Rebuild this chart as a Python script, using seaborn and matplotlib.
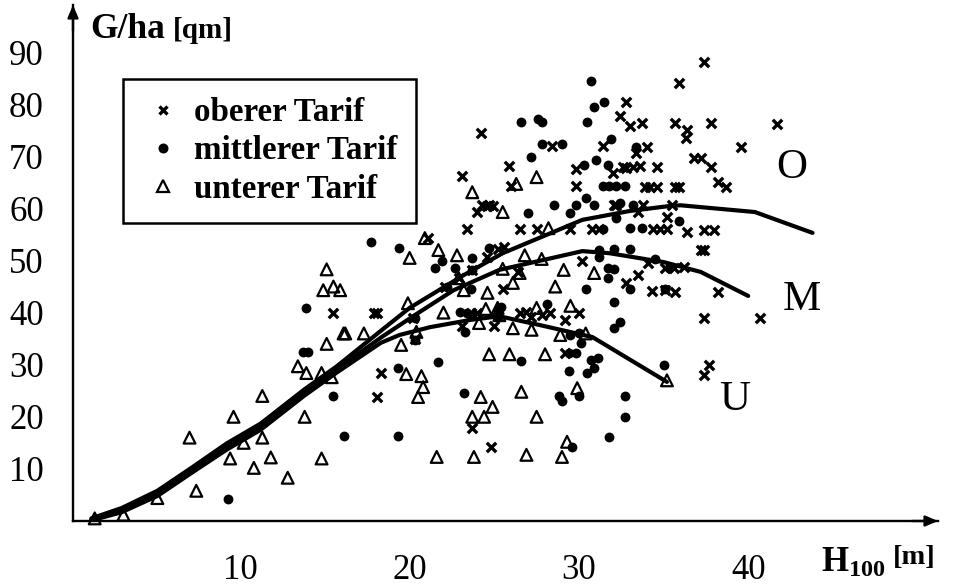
import matplotlib
matplotlib.use("Agg")
import matplotlib.pyplot as plt
import seaborn as sns
from matplotlib.lines import Line2D

sns.set_style("white")
plt.rcParams['font.family'] = ['Liberation Serif', 'DejaVu Serif']
plt.rcParams['text.color'] = 'black'
plt.rcParams['mathtext.fontset'] = 'custom'
plt.rcParams['mathtext.bf'] = 'Liberation Serif:bold'
plt.rcParams['mathtext.rm'] = 'Liberation Serif'

x_ticks = [10, 20, 30, 40]
y_ticks = [10, 20, 30, 40, 50, 60, 70, 80, 90]
legend_labels = ["oberer Tarif", "mittlerer Tarif", "unterer Tarif"]

cross_x = [15.5, 17.9, 18.1, 18.3, 18.1, 20.3, 20.2, 23.4, 24.0, 24.6, 24.9, 26.5, 27.5, 29.5, 30.8, 31.2,
           34.8, 35.2, 35.2, 32.2, 33.8, 33.5, 30.2, 34.1, 33.5, 32.8, 34.3, 25.5, 22.1, 23.7, 24.6, 25.2,
           25.6, 30.0, 29.2, 26.5, 26.9, 28.3, 27.8, 27.2, 23.6, 24.0, 25.0, 23.1, 29.2, 23.7, 24.8, 21.1,
           22.9, 26.4, 37.4, 35.9, 41.7, 37.8, 35.7, 36.4, 36.3, 39.6, 36.8, 37.2, 37.8, 38.2, 38.7, 35.7,
           35.9, 34.6, 33.9, 34.2, 34.6, 33.6, 32.8, 34.0, 33.4, 33.0, 33.7, 32.4, 32.8, 31.4, 29.8, 29.8,
           32.0, 24.2, 23.1, 25.9, 28.4, 26.0, 24.3, 24.7, 32.1, 35.5, 36.4, 37.4, 38.0, 37.2, 37.4, 35.1,
           35.6, 36.2, 38.2, 37.4, 40.7, 37.7, 37.4, 35.7, 35.1, 32.6, 33.2, 34.4]
cross_y = [40.0, 40.0, 40.0, 28.4, 23.8, 35.0, 39.0, 56.0, 59.3, 60.5, 60.5, 56.0, 56.0, 56.0, 56.0, 56.0,
           56.0, 56.0, 58.4, 60.7, 60.7, 59.3, 50.0, 49.5, 47.2, 45.7, 44.1, 44.5, 44.9, 48.2, 50.7, 52.2,
           52.6, 40.0, 38.6, 40.0, 40.1, 40.0, 39.5, 39.2, 40.0, 40.0, 37.4, 37.4, 32.2, 17.8, 14.2, 54.3,
           46.6, 47.8, 88.1, 84.0, 76.2, 76.4, 76.4, 75.0, 73.5, 71.8, 69.7, 69.7, 67.9, 65.0, 64.1, 64.1,
           64.1, 64.1, 64.1, 64.1, 67.9, 68.1, 67.8, 71.8, 70.6, 75.8, 76.4, 77.7, 80.4, 72.0, 67.6, 64.3,
           66.8, 74.5, 66.2, 68.1, 72.0, 64.3, 60.6, 60.6, 60.7, 60.7, 55.5, 55.9, 55.9, 52.0, 52.0, 48.6,
           48.6, 48.7, 44.0, 39.0, 39.0, 30.0, 28.0, 44.0, 44.3, 68.0, 68.0, 56.0]

circle_x = [17.7, 13.9, 13.7, 14.0, 15.5, 16.1, 9.3, 19.4, 21.9, 21.5, 22.7, 23.7, 24.7, 23.7, 23.6, 22.2,
            20.3, 20.3, 23.0, 23.4, 23.7, 23.3, 25.2, 28.1, 29.5, 30.0, 30.1, 29.4, 29.8, 30.7, 31.1, 30.9,
            30.5, 29.4, 26.6, 21.7, 19.3, 23.2, 28.8, 29.0, 30.0, 32.7, 32.7, 31.8, 29.6, 19.3, 35.0, 32.1,
            32.4, 32.1, 30.4, 33.0, 35.1, 31.7, 32.1, 31.7, 31.2, 31.2, 32.1, 33.0, 34.5, 35.3, 30.7, 31.5,
            30.9, 30.5, 26.6, 27.6, 27.8, 27.8, 29.0, 27.2, 31.9, 33.4, 30.3, 31.0, 31.7, 31.4, 31.8, 32.2,
            32.7, 30.4, 28.5, 29.8, 29.5, 30.9, 27.0, 32.4, 33.2, 32.2, 35.9, 33.0, 33.7, 31.4, 25.2, 25.4]
circle_y = [53.5, 40.9, 32.4, 32.4, 24.0, 16.3, 4.2, 52.4, 50.0, 48.5, 48.5, 50.5, 52.4, 48.2, 44.5, 44.9,
            39.0, 34.7, 40.1, 39.9, 39.5, 36.3, 39.2, 41.7, 35.7, 36.0, 34.2, 32.2, 32.2, 30.9, 31.3, 29.4,
            28.4, 28.8, 30.7, 30.5, 29.4, 24.6, 24.0, 23.0, 24.0, 24.0, 20.0, 16.1, 14.2, 16.3, 29.9, 42.0,
            38.2, 37.0, 44.5, 44.5, 44.5, 48.6, 48.4, 46.6, 52.0, 50.7, 52.2, 52.2, 50.3, 48.6, 84.5, 80.4,
            79.5, 76.6, 76.6, 77.2, 76.6, 72.4, 72.4, 69.9, 73.3, 71.8, 68.3, 69.3, 68.3, 64.3, 64.3, 64.3,
            64.3, 62.0, 60.7, 60.7, 59.1, 60.7, 59.1, 61.0, 60.7, 58.2, 57.6, 56.2, 56.2, 56.0, 40.5, 41.0]

tri_x = [1.4, 3.1, 5.1, 7.4, 7.0, 9.6, 9.4, 10.2, 10.8, 11.3, 11.8, 12.8, 11.3, 13.8, 14.8, 13.4, 13.9,
         14.8, 15.4, 15.1, 16.1, 16.2, 17.3, 15.1, 14.9, 15.5, 15.9, 20.0, 25.5, 21.7, 20.9, 22.8, 19.9,
         22.0, 24.6, 24.5, 24.1, 26.1, 27.2, 25.2, 25.3, 27.5, 29.5, 28.9, 30.4, 24.7, 25.9, 28.0, 19.5,
         20.4, 19.8, 20.7, 20.8, 20.5, 24.2, 24.9, 23.7, 24.4, 26.6, 27.5, 29.9, 29.3, 21.6, 23.8, 26.9,
         29.0, 35.2, 29.1, 28.6, 30.9, 27.8, 26.8, 26.1, 26.5, 25.5, 23.2, 22.9, 28.2, 23.7, 26.3, 27.5]
tri_y = [0.5, 1.2, 4.4, 5.8, 16.0, 20.0, 12.0, 15.0, 10.2, 16.0, 12.2, 8.3, 24.0, 20.0, 12.0, 29.7, 28.4,
         28.4, 27.6, 34.0, 36.0, 36.0, 36.0, 48.3, 44.3, 45.0, 44.3, 50.5, 59.3, 52.0, 54.3, 51.0, 41.8,
         40.0, 43.8, 40.7, 38.0, 37.0, 36.7, 40.9, 39.5, 40.9, 41.3, 35.7, 36.0, 32.0, 32.0, 32.0, 33.8,
         36.3, 28.2, 27.8, 25.7, 23.8, 23.8, 21.9, 20.0, 20.0, 24.8, 20.0, 25.5, 15.2, 12.3, 12.3, 12.7,
         12.3, 27.0, 48.2, 45.0, 47.6, 50.3, 51.0, 45.7, 47.6, 48.4, 44.3, 46.6, 56.2, 63.1, 64.7, 66.0]

curve_o_x = [1.2, 3.0, 5.1, 7.2, 9.2, 11.2, 13.8, 15.7, 18.3, 20.0, 23.2, 25.5, 28.0, 30.2, 33.0, 35.2, 36.0, 40.4, 43.8]
curve_o_y = [0.5, 2.5, 5.8, 10.4, 14.9, 18.7, 25.3, 29.7, 36.5, 40.9, 47.2, 51.4, 54.8, 57.8, 59.5, 60.4, 60.6, 59.3, 55.3]
curve_m_x = [1.2, 3.0, 5.1, 7.2, 9.2, 11.2, 13.8, 15.7, 18.3, 20.3, 22.6, 25.3, 27.9, 30.2, 31.8, 35.0, 37.2, 40.0]
curve_m_y = [0.3, 2.1, 5.3, 10.0, 14.3, 18.1, 24.7, 29.1, 35.2, 39.5, 44.3, 48.2, 50.1, 51.8, 51.4, 49.7, 47.8, 43.2]
curve_u_x = [1.2, 3.0, 5.1, 7.2, 9.2, 11.2, 13.8, 15.7, 18.3, 19.4, 21.2, 23.6, 25.3, 27.7, 30.8, 35.2]
curve_u_y = [0.1, 1.7, 4.8, 9.4, 13.7, 17.5, 24.1, 28.5, 34.2, 35.7, 37.2, 38.6, 39.3, 37.6, 35.3, 26.7]

W, H = 954, 588
fig = plt.figure(figsize=(W / 100, H / 100), dpi=100)
L, R, T, B = 73, 938, 5, 521
ax = fig.add_axes([L / W, 1 - B / H, (R - L) / W, (B - T) / H])
ax.patch.set_alpha(0)

for xs, ys in ((curve_o_x, curve_o_y), (curve_m_x, curve_m_y), (curve_u_x, curve_u_y)):
    sns.lineplot(x=xs, y=ys, ax=ax, color="black", linewidth=3.0, sort=False, errorbar=None, zorder=4)

sns.scatterplot(x=cross_x, y=cross_y, ax=ax, marker="x", s=46, color="black", linewidth=2.4, zorder=3)
sns.scatterplot(x=circle_x, y=circle_y, ax=ax, marker="o", s=50, color="black", linewidth=0, zorder=3)
sns.scatterplot(x=tri_x, y=tri_y, ax=ax, marker="^", s=72, facecolor="none", edgecolor="black",
                linewidth=1.6, zorder=5, clip_on=False)

ax.set_xlim((L - 71) / 16.93, (R - 71) / 16.93)
ax.set_ylim(0, (B - T) / 5.21)
ax.set_xticks(x_ticks)
ax.set_yticks(y_ticks)
ax.tick_params(axis='both', length=0, labelsize=25, colors="black")
ax.tick_params(axis='x', pad=24)
ax.tick_params(axis='y', pad=21)
sns.despine(ax=ax)
for s in ("left", "bottom"):
    ax.spines[s].set_linewidth(1.7)
    ax.spines[s].set_color("black")
ax.grid(False)

arrow = dict(arrowstyle="-|>,head_length=0.75,head_width=0.32", color="black", lw=1.7, shrinkA=0, shrinkB=0)
ax.annotate("", xy=(1.0, 0), xytext=(0.97, 0), xycoords="axes fraction", arrowprops=arrow, annotation_clip=False)
ax.annotate("", xy=(0, 1.0), xytext=(0, 0.95), xycoords="axes fraction", arrowprops=arrow, annotation_clip=False)

handles = [
    Line2D([], [], marker="x", ls="", color="black", ms=6.2, mew=2.4),
    Line2D([], [], marker="o", ls="", color="black", ms=7.2, mew=0),
    Line2D([], [], marker="^", ls="", mfc="none", mec="black", ms=8.0, mew=1.6),
]
leg = ax.legend(handles, legend_labels, loc="upper left", bbox_to_anchor=(123 / W, 1 - 79 / H),
                bbox_transform=fig.transFigure, fancybox=False, framealpha=1, edgecolor="black",
                prop={"family": "Liberation Serif", "weight": "bold", "size": 23.8},
                labelspacing=0.22, handletextpad=0.3, borderpad=0.55, handlelength=1.3, borderaxespad=0)
leg.get_frame().set_linewidth(1.8)
leg.set_zorder(6)


def fx(px):
    return px / W


def fy(py):
    return 1 - py / H


fig.text(fx(90), fy(29), "G/ha", fontsize=25.5, fontweight="bold", va="center", ha="left")
fig.text(fx(173), fy(31), "[qm]", fontsize=21, fontweight="bold", va="center", ha="left")
fig.text(fx(821), fy(563), r"$\mathbf{H_{100}}$", fontsize=25, va="center", ha="left")
fig.text(fx(893), fy(557), "[m]", fontsize=20.5, fontweight="bold", va="center", ha="left")
fig.text(fx(792), fy(168), "O", fontsize=31, va="center", ha="center")
fig.text(fx(802), fy(300), "M", fontsize=31, va="center", ha="center")
fig.text(fx(735), fy(400), "U", fontsize=31, va="center", ha="center")

fig.savefig("out.png", dpi=100)
